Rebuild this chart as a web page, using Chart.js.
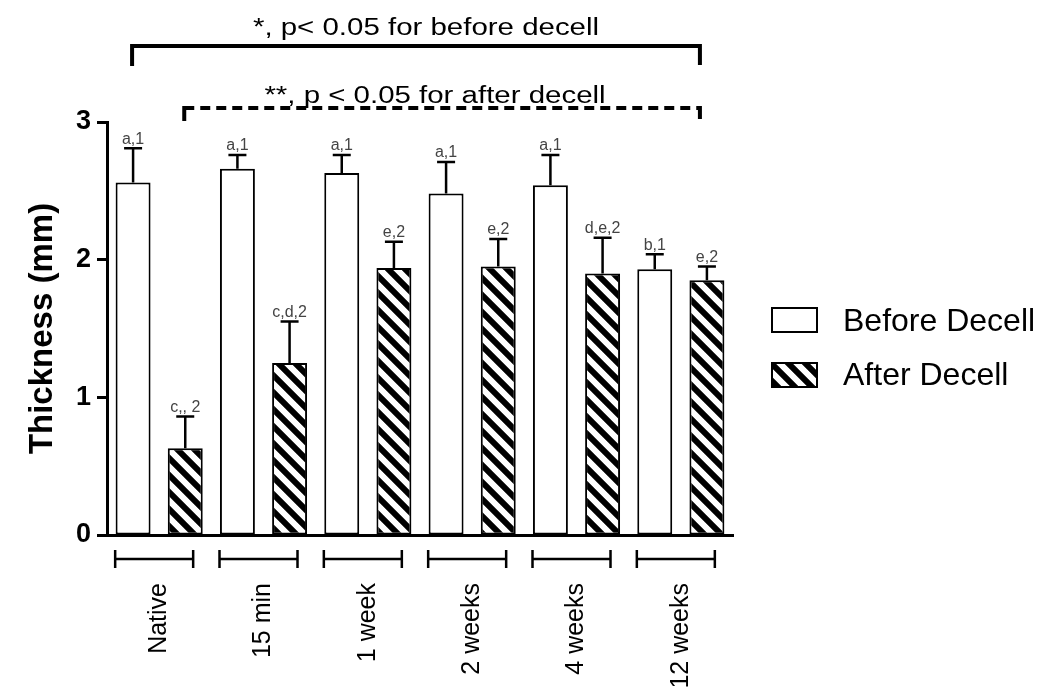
<!DOCTYPE html>
<html>
<head>
<meta charset="utf-8">
<script src="https://cdn.jsdelivr.net/npm/chart.js@4.4.0/dist/chart.umd.min.js"></script>
<style>
    html, body { margin: 0; padding: 0; background: #fff; }
</style>
</head>
<body>
<canvas id="grafico-barre" width="1050" height="694"></canvas>
<script>
// dati
var gruppi = ['Native', '15 min', '1 week', '2 weeks', '4 weeks', '12 weeks'];
var primaDecell = [2.56, 2.66, 2.63, 2.48, 2.54, 1.93];
var dopoDecell = [0.63, 1.25, 1.94, 1.95, 1.90, 1.85];
var erroriPrima = [0.25, 0.10, 0.13, 0.23, 0.22, 0.11];
var erroriDopo = [0.23, 0.30, 0.19, 0.20, 0.26, 0.10];
var letterePrima = ['a,1', 'a,1', 'a,1', 'a,1', 'a,1', 'b,1'];
var lettereDopo = ['c,, 2', 'c,d,2', 'e,2', 'e,2', 'd,e,2', 'e,2'];
var tickY = [0, 1, 2, 3];
var nomiSerie = ['Before Decell', 'After Decell'];
var notaPrima = '*, p< 0.05 for before decell';
var notaDopo = '**, p < 0.05 for after decell';

var FONT = '"Liberation Sans", Arial, sans-serif';

function creaTratteggio () {
    var n = 17;
    var c = document.createElement('canvas');
    c.width = n;
    c.height = n;
    var g = c.getContext('2d');
    g.fillStyle = '#fff';
    g.fillRect(0, 0, n, n);
    g.strokeStyle = '#000';
    g.lineWidth = 6;
    g.beginPath();
    g.moveTo(-n, -n); g.lineTo(2 * n, 2 * n);
    g.moveTo(-2 * n, -n); g.lineTo(n, 2 * n);
    g.moveTo(0, -n); g.lineTo(3 * n, 2 * n);
    g.stroke();
    return g.createPattern(c, 'repeat');
}

var tratteggio = creaTratteggio();

function testoLargo (ctx, testo, cx, y, size, sx) {
    ctx.save();
    ctx.translate(cx, y);
    ctx.scale(sx, 1);
    ctx.font = size + 'px ' + FONT;
    ctx.fillStyle = '#000';
    ctx.textAlign = 'center';
    ctx.textBaseline = 'alphabetic';
    ctx.fillText(testo, 0, 0);
    ctx.restore();
}

var disegniExtra = {
    id: 'disegniExtra',
    afterDatasetsDraw: function (chart) {
        var ctx = chart.ctx;
        var yScale = chart.scales.y;
        var errori = [erroriPrima, erroriDopo];
        var lettere = [letterePrima, lettereDopo];
        ctx.save();
        for (var d = 0; d < 2; d++) {
            var meta = chart.getDatasetMeta(d);
            var valori = chart.data.datasets[d].data;
            meta.data.forEach(function (bar, j) {
                var yErr = yScale.getPixelForValue(valori[j] + errori[d][j]);
                ctx.strokeStyle = '#000';
                ctx.lineWidth = 2.5;
                ctx.beginPath();
                ctx.moveTo(bar.x, bar.y);
                ctx.lineTo(bar.x, yErr);
                ctx.moveTo(bar.x - 9, yErr);
                ctx.lineTo(bar.x + 9, yErr);
                ctx.stroke();
                ctx.font = '16px ' + FONT;
                ctx.fillStyle = '#444';
                ctx.textAlign = 'center';
                ctx.textBaseline = 'bottom';
                ctx.fillText(lettere[d][j], bar.x, yErr - 1);
            });
        }
        ctx.restore();
    },
    afterDraw: function (chart) {
        var ctx = chart.ctx;
        var xScale = chart.scales.x;
        var m0 = chart.getDatasetMeta(0).data;
        var m1 = chart.getDatasetMeta(1).data;
        ctx.save();
        ctx.strokeStyle = '#000';
        ctx.lineCap = 'butt';

        // parentesi in alto, linea continua
        var sx = m0[0].x - 1;
        var dx = m1[m1.length - 1].x - 7;
        ctx.lineWidth = 4;
        ctx.beginPath();
        ctx.moveTo(sx, 66);
        ctx.lineTo(sx, 46);
        ctx.lineTo(dx, 46);
        ctx.lineTo(dx, 65);
        ctx.stroke();
        testoLargo(ctx, notaPrima, 426, 35, 23, 1.28);

        // parentesi tratteggiata
        var sx2 = m1[0].x - 1;
        ctx.beginPath();
        ctx.moveTo(sx2, 121);
        ctx.lineTo(sx2, 106);
        ctx.moveTo(dx, 106);
        ctx.lineTo(dx, 119);
        ctx.stroke();
        ctx.setLineDash([10, 6]);
        ctx.beginPath();
        ctx.moveTo(sx2, 108);
        ctx.lineTo(dx, 108);
        ctx.stroke();
        ctx.setLineDash([]);
        testoLargo(ctx, notaDopo, 435, 103, 23, 1.28);

        // parentesi sotto l'asse x
        ctx.lineWidth = 2.5;
        gruppi.forEach(function (g, i) {
            var cx = xScale.getPixelForTick(i);
            var a = cx - 44;
            var b = cx + 34;
            ctx.beginPath();
            ctx.moveTo(a, 550); ctx.lineTo(a, 568);
            ctx.moveTo(a, 559); ctx.lineTo(b, 559);
            ctx.moveTo(b, 550); ctx.lineTo(b, 568);
            ctx.stroke();
        });

        // legenda
        var riempimenti = ['#fff', tratteggio];
        var yBox = [308, 363];
        var yTesto = [331, 385];
        for (var k = 0; k < 2; k++) {
            ctx.fillStyle = riempimenti[k];
            ctx.fillRect(772, yBox[k], 45, 24);
            ctx.lineWidth = 2;
            ctx.strokeRect(772, yBox[k], 45, 24);
            ctx.fillStyle = '#000';
            ctx.font = '32px ' + FONT;
            ctx.textAlign = 'left';
            ctx.textBaseline = 'alphabetic';
            ctx.fillText(nomiSerie[k], 843, yTesto[k]);
        }
        ctx.restore();
    }
};

var ctx = document.getElementById('grafico-barre');
var chart = new Chart(ctx, {
    type: 'bar',
    data: {
        labels: gruppi,
        datasets: [{
            label: nomiSerie[0],
            data: primaDecell,
            backgroundColor: '#fff',
            borderColor: '#000',
            borderWidth: 2,
            borderSkipped: false
        }, {
            label: nomiSerie[1],
            data: dopoDecell,
            backgroundColor: tratteggio,
            borderColor: '#000',
            borderWidth: 2,
            borderSkipped: false
        }]
    },
    options: {
        responsive: false,
        animation: false,
        categoryPercentage: 1,
        barPercentage: 0.67,
        layout: { padding: { top: 122, right: 317, bottom: 0, left: 0 } },
        plugins: {
            legend: { display: false },
            tooltip: { enabled: false }
        },
        scales: {
            x: {
                offset: true,
                grid: { display: false, drawTicks: false },
                border: { color: '#000', width: 3 },
                ticks: {
                    minRotation: 90,
                    maxRotation: 90,
                    padding: 48,
                    color: '#000',
                    font: { family: FONT, size: 25 }
                },
                afterFit: function (s) { s.height = 159; }
            },
            y: {
                min: 0,
                max: 3,
                afterBuildTicks: function (s) {
                    s.ticks = tickY.map(function (v) { return { value: v }; });
                },
                grid: { drawOnChartArea: false, tickLength: 10, tickWidth: 3, tickColor: '#000' },
                border: { color: '#000', width: 3 },
                ticks: {
                    padding: 6,
                    color: '#000',
                    font: { family: FONT, size: 27, weight: 'bold' }
                },
                title: {
                    display: true,
                    text: 'Thickness (mm)',
                    color: '#000',
                    font: { family: FONT, size: 33, weight: 'bold' },
                    padding: { top: 23, bottom: 0 }
                },
                afterFit: function (s) { s.width = 107; }
            }
        }
    },
    plugins: [disegniExtra]
});
</script>
</body>
</html>
